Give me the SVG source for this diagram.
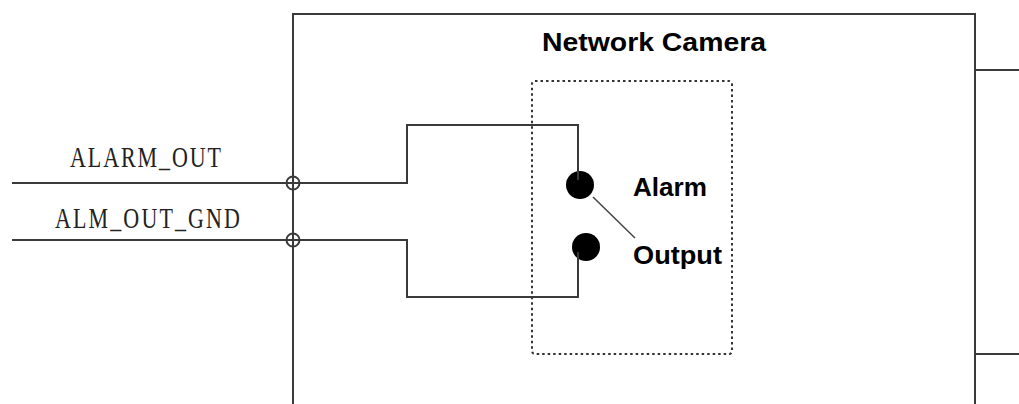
<svg xmlns="http://www.w3.org/2000/svg" width="1019" height="404" viewBox="0 0 1019 404">
<style>
.w{fill:none;stroke:#3a3a3a;stroke-width:2}
.dot{fill:none;stroke:#333;stroke-width:2;stroke-dasharray:2.5 3}
.lbl{font-family:"Liberation Serif","Times New Roman",serif;font-size:22px;fill:#222}
.b{font-family:"Liberation Sans",Arial,sans-serif;font-weight:bold;font-size:26px;fill:#000}
.pt{fill:#000}
</style>
<rect width="1019" height="404" fill="#fff"/>
<g id="camera">
<path class="w" d="M293,410 V14 H975 V410"/>
<text class="b" x="542" y="51" textLength="224" lengthAdjust="spacingAndGlyphs">Network Camera</text>
</g>
<g id="alarm-output">
<rect class="dot" x="532" y="81" width="200" height="273" rx="3"/>
<circle class="pt" cx="580" cy="185" r="14"/>
<circle class="pt" cx="586" cy="247" r="14"/>
<text class="b" x="633" y="196" textLength="74" lengthAdjust="spacingAndGlyphs">Alarm</text>
<text class="b" x="633" y="264" textLength="89" lengthAdjust="spacingAndGlyphs">Output</text>
</g>
<g id="labels">
<text class="lbl" transform="translate(70,167) scale(1,1.3)" textLength="151" lengthAdjust="spacing">ALARM_OUT</text>
<text class="lbl" transform="translate(55,228) scale(1,1.3)" textLength="185" lengthAdjust="spacing">ALM_OUT_GND</text>
</g>
<g id="connectors">
<path class="w" d="M12,183 H407 V125 H578 V180"/>
<path class="w" d="M12,240 H407 V297 H578 V252"/>
<path class="w" d="M975,70 H1019 M975,354 H1019" />
<line x1="593" y1="197" x2="635" y2="238" stroke="#444" stroke-width="1.5"/>
<circle class="w" cx="293" cy="183" r="6.5" stroke-width="1.5"/>
<circle class="w" cx="293" cy="240" r="6.5" stroke-width="1.5"/>
</g>
</svg>
